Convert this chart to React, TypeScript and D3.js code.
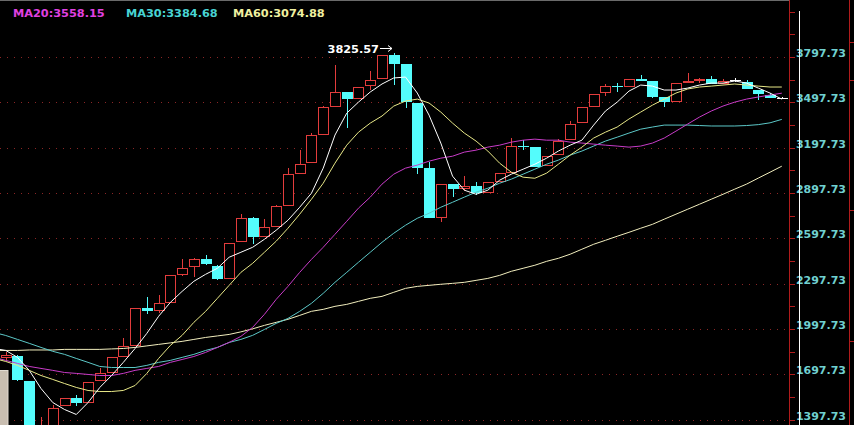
import React from 'react';
import * as d3 from 'd3';

const W = 854;
const H = 425;

// daily candles, index 0 is the half-hidden bar at the left edge
const open = [1802, 1815, 1650, 1230, 1300, 1490, 1537, 1510, 1650, 1703, 1809, 1882, 2134, 2114, 2167, 2352, 2405, 2458, 2412, 2326, 2571, 2730, 2604, 2671, 2810, 3022, 3095, 3281, 3466, 3566, 3519, 3605, 3652, 3811, 3751, 3493, 3062, 2730, 2956, 2923, 2942, 2896, 2969, 3029, 3208, 3201, 3075, 3148, 3247, 3360, 3466, 3559, 3605, 3599, 3652, 3639, 3533, 3499, 3632, 3645, 3652, 3619, 3645, 3632, 3579, 3546, 3526];
const high = [1842, 1822, 1650, 1411, 1497, 1540, 1563, 1643, 1742, 1809, 1935, 2134, 2207, 2220, 2352, 2458, 2465, 2485, 2419, 2565, 2757, 2737, 2724, 2816, 3062, 3181, 3294, 3473, 3745, 3566, 3599, 3705, 3811, 3825.57, 3751, 3493, 3102, 2956, 2956, 3009, 2969, 2969, 3029, 3261, 3247, 3201, 3141, 3254, 3373, 3466, 3552, 3619, 3625, 3652, 3678, 3639, 3533, 3625, 3692, 3659, 3672, 3652, 3659, 3645, 3579, 3559, 3533];
const low = [1789, 1650, 1325, 1200, 1290, 1490, 1484, 1510, 1650, 1703, 1809, 1882, 2094, 2100, 2167, 2346, 2339, 2419, 2319, 2326, 2571, 2558, 2604, 2671, 2810, 3022, 3095, 3281, 3466, 3327, 3519, 3579, 3652, 3612, 3460, 3022, 2730, 2704, 2870, 2909, 2883, 2896, 2969, 3029, 3181, 3068, 3075, 3148, 3247, 3360, 3466, 3539, 3566, 3599, 3639, 3526, 3466, 3499, 3632, 3625, 3619, 3619, 3632, 3586, 3513, 3526, 3519];
const close = [1822, 1656, 1338, 1299, 1477, 1537, 1504, 1643, 1703, 1809, 1882, 2134, 2114, 2167, 2352, 2399, 2458, 2425, 2326, 2565, 2730, 2604, 2671, 2810, 3022, 3088, 3281, 3466, 3566, 3519, 3599, 3645, 3811, 3751, 3499, 3062, 2730, 2956, 2923, 2942, 2896, 2969, 3029, 3208, 3201, 3068, 3141, 3241, 3354, 3466, 3552, 3605, 3599, 3652, 3639, 3533, 3499, 3625, 3639, 3652, 3619, 3639, 3645, 3586, 3552, 3526, 3526];

// moving averages start one bar earlier (index -1, just off screen)
const ma5 = [1868, 1855, 1809, 1723, 1603, 1510, 1464, 1431, 1510, 1610, 1689, 1776, 1868, 1968, 2081, 2173, 2246, 2313, 2359, 2399, 2472, 2505, 2538, 2591, 2651, 2717, 2803, 2896, 3062, 3281, 3426, 3499, 3566, 3619, 3659, 3665, 3559, 3413, 3228, 3009, 2916, 2889, 2916, 2982, 3022, 3055, 3088, 3128, 3175, 3214, 3247, 3347, 3440, 3499, 3572, 3612, 3605, 3579, 3579, 3592, 3612, 3625, 3625, 3639, 3625, 3592, 3559, 3519];
const ma10 = [1802, 1782, 1756, 1723, 1689, 1663, 1636, 1610, 1590, 1583, 1583, 1590, 1623, 1703, 1802, 1888, 1955, 2041, 2114, 2200, 2286, 2372, 2432, 2505, 2578, 2664, 2757, 2856, 2962, 3095, 3214, 3300, 3360, 3407, 3473, 3506, 3519, 3493, 3433, 3360, 3294, 3241, 3175, 3095, 3035, 3002, 2995, 3029, 3088, 3148, 3201, 3261, 3300, 3334, 3387, 3433, 3479, 3519, 3559, 3586, 3599, 3605, 3612, 3619, 3612, 3605, 3599, 3599];
const ma20 = [1809, 1789, 1769, 1749, 1736, 1723, 1709, 1703, 1696, 1689, 1689, 1703, 1723, 1736, 1749, 1776, 1795, 1815, 1842, 1875, 1908, 1948, 2008, 2094, 2193, 2279, 2372, 2458, 2538, 2624, 2710, 2797, 2870, 2956, 3022, 3062, 3082, 3108, 3128, 3141, 3168, 3181, 3201, 3214, 3234, 3247, 3254, 3247, 3247, 3234, 3228, 3221, 3214, 3208, 3201, 3208, 3228, 3261, 3307, 3354, 3400, 3440, 3473, 3499, 3519, 3533, 3546, 3558.15];
const ma30 = [1974, 1954, 1928, 1902, 1875, 1849, 1829, 1802, 1776, 1749, 1742, 1742, 1742, 1756, 1776, 1789, 1809, 1829, 1855, 1875, 1908, 1928, 1955, 1994, 2034, 2067, 2114, 2167, 2233, 2306, 2372, 2439, 2505, 2571, 2631, 2684, 2730, 2763, 2803, 2836, 2870, 2903, 2929, 2962, 2989, 3022, 3055, 3088, 3115, 3148, 3175, 3208, 3241, 3267, 3294, 3320, 3334, 3347, 3347, 3347, 3344, 3341, 3341, 3341, 3344, 3350, 3362, 3384.68];
const ma60 = [1855, 1855, 1855, 1858, 1858, 1858, 1862, 1862, 1862, 1862, 1865, 1868, 1875, 1885, 1895, 1905, 1915, 1928, 1941, 1951, 1961, 1978, 1998, 2021, 2041, 2061, 2087, 2114, 2127, 2147, 2160, 2180, 2200, 2213, 2240, 2266, 2279, 2286, 2293, 2299, 2306, 2319, 2332, 2352, 2379, 2399, 2419, 2445, 2465, 2492, 2525, 2558, 2584, 2611, 2637, 2664, 2690, 2724, 2757, 2790, 2823, 2856, 2889, 2923, 2956, 2996, 3035, 3074.88];

const yTicks = [1397.73, 1697.73, 1997.73, 2297.73, 2597.73, 2897.73, 3197.73, 3497.73, 3797.73];

const legendNames = ['MA20', 'MA30', 'MA60'];
const legendValues = [3558.15, 3384.68, 3074.88];

const RED = '#e23c3c';
const CYAN = '#54fcfc';
const AXIS_RED = '#b01c1c';
const GRID_RED = '#8c2626';
const legendColors = ['#e040e0', '#48d4d4', '#f0f0a0'];
const legendX = [13, 126, 233];
const FONT = '"DejaVu Sans", sans-serif';

// chrome of the trading window (not data)
const frameTicks = [42, 80, 210, 341];

export default function App() {
  const plotRight = 789;
  const x = d3.scaleLinear().domain([-1, 66]).range([-6.02, 781.8]);
  const y = d3.scaleLinear().domain([1397.73, 3797.73]).range([419.5, 57]);

  const maLine = d3.line<number>()
    .x((_, i) => x(i - 1))
    .y(d => y(d));

  // half-step ticks on the price axis
  const step = yTicks[1] - yTicks[0];
  const minorTicks = d3.range(yTicks[0] - step, yTicks[yTicks.length - 1] + step * 1.01, step / 2);

  const peakIdx = d3.maxIndex(high);
  const peakX = Math.round(x(peakIdx));
  const peakY = y(high[peakIdx]);

  return (
    <svg
      width={W}
      height={H}
      style={{ position: 'fixed', left: 0, top: 0, display: 'block', background: '#000' }}
    >
      <rect x={0} y={0} width={W} height={H} fill="#000" />
      <line x1={0} x2={plotRight} y1={0.5} y2={0.5} stroke="#6a6a6a" />

      {/* dotted price grid */}
      {yTicks.map(t => (
        <line
          key={t}
          x1={0}
          x2={plotRight}
          y1={Math.round(y(t)) + 0.5}
          y2={Math.round(y(t)) + 0.5}
          stroke={GRID_RED}
          strokeDasharray="1,6"
        />
      ))}

      {/* candles */}
      {open.map((o, i) => {
        const c = close[i];
        const cx = Math.round(x(i));
        const yh = Math.round(y(high[i]));
        const yl = Math.round(y(low[i]));
        const top = Math.round(Math.min(y(o), y(c)));
        const bot = Math.round(Math.max(y(o), y(c)));
        if (c > o) {
          return (
            <g key={i} stroke={RED}>
              {yh < top && <line x1={cx + 0.5} x2={cx + 0.5} y1={yh} y2={top} />}
              {yl > bot && <line x1={cx + 0.5} x2={cx + 0.5} y1={bot} y2={yl} />}
              <rect x={cx - 4.5} y={top + 0.5} width={10} height={Math.max(bot - top - 1, 1)} fill="#000" />
            </g>
          );
        }
        if (c < o) {
          return (
            <g key={i}>
              <line x1={cx + 0.5} x2={cx + 0.5} y1={yh} y2={yl} stroke={CYAN} />
              <rect x={cx - 5} y={top} width={11} height={Math.max(bot - top, 1)} fill={CYAN} />
            </g>
          );
        }
        return (
          <g key={i} stroke="#ffffff">
            <line x1={cx + 0.5} x2={cx + 0.5} y1={yh} y2={yl} />
            <line x1={cx - 5} x2={cx + 6} y1={top + 0.5} y2={top + 0.5} />
          </g>
        );
      })}

      {/* moving averages */}
      <g fill="none" strokeWidth={1}>
        <path d={maLine(ma60) || ''} stroke="#f2eebe" />
        <path d={maLine(ma30) || ''} stroke="#5cc8c8" />
        <path d={maLine(ma20) || ''} stroke="#c83cc8" />
        <path d={maLine(ma10) || ''} stroke="#e8e888" />
        <path d={maLine(ma5) || ''} stroke="#ffffff" />
      </g>

      {/* highest price marker */}
      <g fill="#ffffff" style={{ fontFamily: FONT, fontSize: 11.3, fontWeight: 'bold' }}>
        <text x={peakX - 15} y={peakY} textAnchor="end">{high[peakIdx].toFixed(2)}</text>
        <line x1={peakX - 14} x2={peakX - 2} y1={Math.round(peakY) - 4.5} y2={Math.round(peakY) - 4.5} stroke="#ffffff" />
        <path d={`M${peakX - 2},${Math.round(peakY) - 4.5} l-4,-3 M${peakX - 2},${Math.round(peakY) - 4.5} l-4,3`} stroke="#ffffff" fill="none" />
      </g>

      {/* left-edge panel remnant */}
      <rect x={-1} y={370.5} width={9} height={60} fill="#c9beb1" stroke="#e2dbd2" />

      {/* price axis */}
      <line x1={plotRight + 0.5} x2={plotRight + 0.5} y1={0} y2={H} stroke={AXIS_RED} />
      {minorTicks.map(t => (
        <line
          key={t}
          x1={plotRight}
          x2={plotRight + 6}
          y1={Math.round(y(t)) + 0.5}
          y2={Math.round(y(t)) + 0.5}
          stroke={AXIS_RED}
        />
      ))}
      <g fill="#70d0d0" style={{ fontFamily: FONT, fontSize: 11, fontWeight: 'bold' }}>
        {yTicks.map(t => (
          <text key={t} x={846} y={Math.round(y(t))} textAnchor="end">{t.toFixed(2)}</text>
        ))}
      </g>
      <line x1={799.5} x2={799.5} y1={11} y2={H} stroke="#ffffff" />
      <line x1={849.5} x2={849.5} y1={0} y2={H} stroke={AXIS_RED} />
      {frameTicks.map(t => (
        <line key={t} x1={849} x2={W} y1={t + 0.5} y2={t + 0.5} stroke={AXIS_RED} />
      ))}

      {/* legend */}
      <g style={{ fontFamily: FONT, fontSize: 11.3, fontWeight: 'bold' }}>
        {legendNames.map((n, i) => (
          <text key={n} x={legendX[i]} y={17} fill={legendColors[i]}>
            {`${n}:${legendValues[i].toFixed(2)}`}
          </text>
        ))}
      </g>
    </svg>
  );
}
